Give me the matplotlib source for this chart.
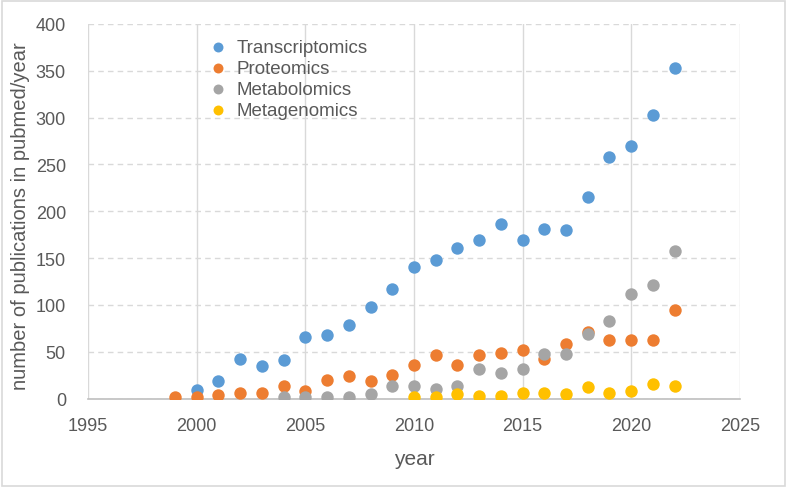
import matplotlib.pyplot as plt
from matplotlib.patches import Rectangle

# values (publications per year)
years_tr = list(range(2000, 2023))
transcriptomics = [9, 19, 42, 35, 41, 66, 68, 78, 98, 117, 140, 148, 161, 169, 186,
                   169, 181, 180, 215, 258, 270, 303, 353]

years_pr = list(range(1999, 2023))
proteomics = [2, 2, 4, 6, 6, 13, 8, 20, 24, 19, 25, 36, 46, 36, 46, 49,
              52, 42, 58, 71, 63, 63, 62, 94]

years_me = list(range(2004, 2023))
metabolomics = [1.5, 2, 2, 2, 5, 13, 13, 10, 13.5, 31, 27, 31, 48, 48, 69,
                83, 112, 121, 158]

years_mg = list(range(2010, 2023))
metagenomics = [2, 1.5, 5, 3, 3, 6, 6, 5, 12, 6, 7.5, 16, 13.5]

series = [
    ('Transcriptomics', years_tr, transcriptomics, '#5B9BD5'),
    ('Proteomics', years_pr, proteomics, '#ED7D31'),
    ('Metabolomics', years_me, metabolomics, '#A5A5A5'),
    ('Metagenomics', years_mg, metagenomics, '#FFC000'),
]

plt.rcParams['font.family'] = ['Liberation Sans', 'DejaVu Sans']

fig = plt.figure(figsize=(7.87, 4.89), dpi=100)
ax = fig.add_axes([0.112, 0.183, 0.828, 0.766])

for name, xs, ys, col in series:
    ax.scatter(xs, ys, s=80, color=col, label=name, zorder=3, linewidths=0)

ax.set_xlim(1995, 2025)
ax.set_ylim(0, 400)
ax.set_xticks(range(1995, 2026, 5))
ax.set_yticks(range(0, 401, 50))

# gridlines: vertical solid, horizontal dashed
ax.xaxis.grid(True, color='#D9D9D9', linewidth=1, linestyle='-')
ax.yaxis.grid(True, color='#D9D9D9', linewidth=1, linestyle=(0, (4, 3)))
ax.set_axisbelow(True)
for side in ['top', 'right', 'left']:
    ax.spines[side].set_visible(False)
ax.spines['bottom'].set_color('#BFBFBF')
ax.spines['bottom'].set_linewidth(1.2)

ax.tick_params(length=0, labelsize=13, colors='#595959')
ax.tick_params(axis='x', pad=13)
ax.tick_params(axis='y', pad=16)

ax.set_xlabel('year', fontsize=15, color='#595959', labelpad=11)
ax.set_ylabel('number of publications in pubmed/year', fontsize=14.5,
              color='#595959')
ax.yaxis.set_label_coords(-0.089, 0.49)

ax.legend(loc='upper left', bbox_to_anchor=(0.15, 0.995), frameon=False,
          fontsize=13.5, handletextpad=0.0, labelspacing=0.2,
          markerscale=0.8, labelcolor='#595959', borderaxespad=0.3)

# light chart frame
fig.patches.append(Rectangle((0.003, 0.004), 0.994, 0.992, transform=fig.transFigure,
                             fill=False, edgecolor='#D9D9D9', linewidth=1.2))

fig.savefig('out.png', dpi=100)
